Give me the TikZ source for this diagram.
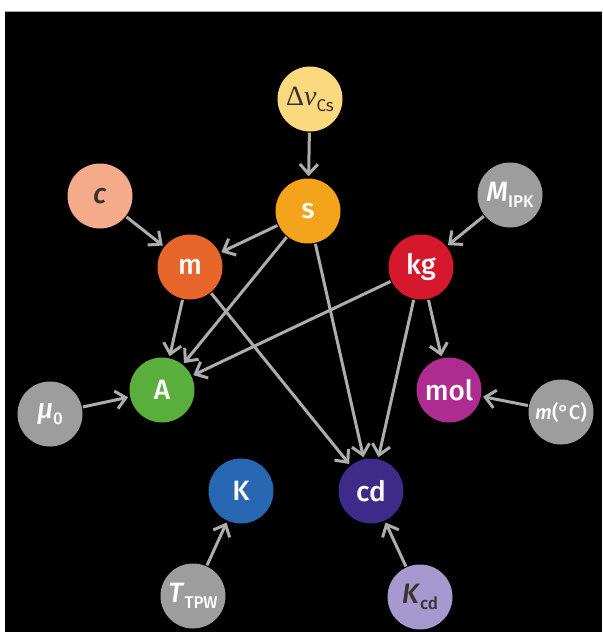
\documentclass[tikz,border=0pt]{standalone}
\usepackage{fontspec}
\setmainfont{Fira Sans}[BoldFont={Fira Sans Medium}, BoldItalicFont={Fira Sans Medium Italic}]
\newfontfamily\serifgreek{Liberation Serif}
\usetikzlibrary{arrows.meta}
\definecolor{cdnu}{HTML}{FAD97F}
\definecolor{cs}{HTML}{F4A41B}
\definecolor{cc}{HTML}{F5AA8A}
\definecolor{cm}{HTML}{E8652B}
\definecolor{ckg}{HTML}{D5182B}
\definecolor{cA}{HTML}{5AAE3C}
\definecolor{cmol}{HTML}{AE2C8F}
\definecolor{cK}{HTML}{2867B2}
\definecolor{ccd}{HTML}{3E2A88}
\definecolor{cKcd}{HTML}{A699D0}
\definecolor{cgray}{HTML}{9D9D9D}
\definecolor{carrow}{HTML}{ADADAD}
\definecolor{cdark}{HTML}{3A3230}
\newcommand\subtxt[1]{\raisebox{-0.22em}{\fontsize{17}{18}\selectfont\upshape #1}}
\begin{document}
\begin{tikzpicture}[x=1pt,y=-1pt,
  unit/.style={circle, minimum size=65pt, inner sep=0pt, text=white,
    font=\fontsize{28}{30}\selectfont\bfseries},
  darktext/.style={text=cdark},
  arr/.style={draw=carrow, line width=3pt,
    -{Straight Barb[length=10pt,width=18pt]}, shorten >=2pt, shorten <=1pt}]
\fill[white] (0,0) rectangle (602,632);
\fill[black] (5,11) rectangle (602,632);
\draw[gray!70, line width=0.8pt] (5,11) -- (602,11);
% nodes
\node[unit, fill=cdnu, darktext] (dnu) at (310,99) {{\serifgreek\mdseries Δ\textit{ν}}{\mdseries\subtxt{Cs}}};
\node[unit, fill=cs] (s) at (308,211) {s};
\node[unit, fill=cc, darktext] (c) at (100,196) {\textit{c}};
\node[unit, fill=cm] (m) at (190,267) {m};
\node[unit, fill=ckg] (kg) at (421,267) {kg};
\node[unit, fill=cgray] (MIPK) at (510,195) {\textit{M}\subtxt{IPK}};
\node[unit, fill=cA] (A) at (162,390) {A};
\node[unit, fill=cgray] (mu) at (50,414) {\textit{μ}\subtxt{0}};
\node[unit, fill=cmol] (mol) at (449,390) {mol};
\node[unit, fill=cgray, font=\fontsize{20}{22}\selectfont\bfseries] (mC) at (561,412) {\textit{m}(°C)};
\node[unit, fill=cK] (K) at (241,491) {K};
\node[unit, fill=ccd] (cd) at (371,491) {cd};
\node[unit, fill=cgray] (TTPW) at (193,596) {\textit{T}\subtxt{TPW}};
\node[unit, fill=cKcd, darktext] (Kcd) at (420,597) {\textit{K}\subtxt{cd}};
% arrows
\draw[arr] (dnu) -- (s);
\draw[arr] (c) -- (m);
\draw[arr] (MIPK) -- (kg);
\draw[arr] (s) -- (m);
\draw[arr] (s) -- (A);
\draw[arr] (s) -- (cd);
\draw[arr] (m) -- (A);
\draw[arr] (m) -- (cd);
\draw[arr] (kg) -- (A);
\draw[arr] (kg) -- (cd);
\draw[arr] (kg) -- (mol);
\draw[arr] (mu) -- (A);
\draw[arr] (mC) -- (mol);
\draw[arr] (TTPW) -- (K);
\draw[arr] (Kcd) -- (cd);
\end{tikzpicture}
\end{document}
